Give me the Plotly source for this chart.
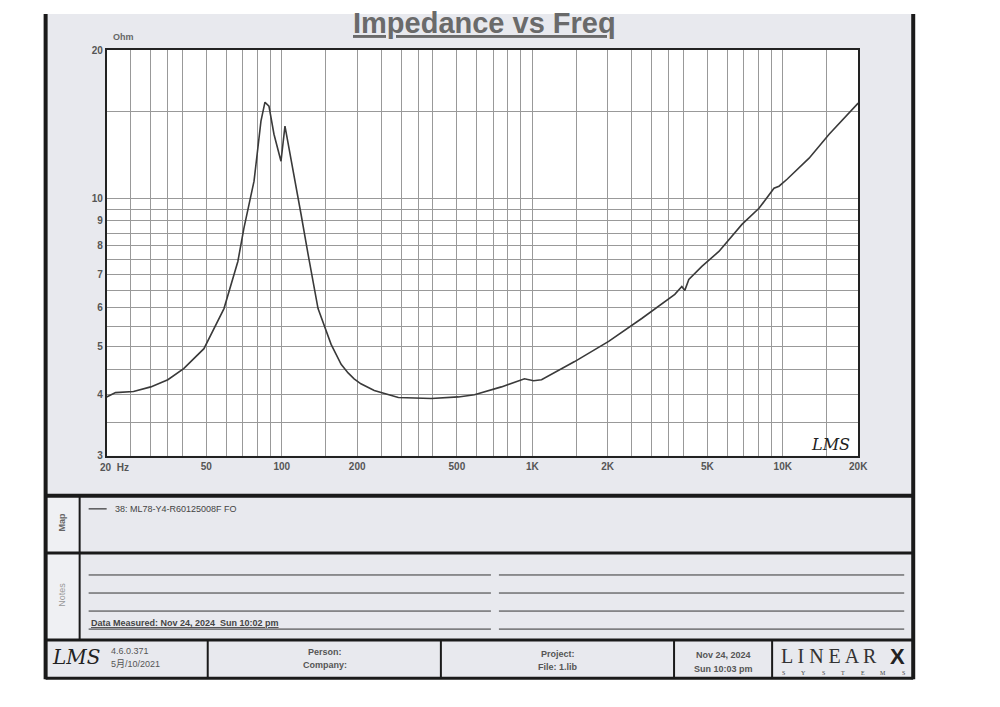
import numpy as np
import plotly.graph_objects as go

# impedance curve (Hz, Ohm)
freq = [20, 21.7, 25.6, 30, 35.1, 40.6, 48.9, 58.8, 66.8, 70.6, 77.5, 82.6, 85.7,
        88.9, 93.1, 99.3, 103, 108.9, 119.4, 127.4, 139.6, 157.4, 172.6, 184, 194.5,
        207, 234, 292, 395, 507, 588, 753, 931, 1012, 1089, 1476, 2018, 2735, 3707,
        3954, 4064, 4217, 4754, 5560, 6871, 8036, 9226, 9661, 10400, 12736, 15311, 20000]
impedance = [3.95, 4.03, 4.05, 4.14, 4.28, 4.51, 4.95, 5.97, 7.44, 8.69, 10.83, 14.34, 15.67,
             15.38, 13.49, 11.89, 14.01, 12.06, 9.28, 7.69, 5.97, 5.05, 4.60, 4.42, 4.30,
             4.20, 4.07, 3.94, 3.92, 3.95, 3.99, 4.14, 4.30, 4.26, 4.28, 4.66, 5.12, 5.70, 6.38,
             6.62, 6.50, 6.84, 7.27, 7.80, 8.85, 9.54, 10.48, 10.58, 10.93, 12.06, 13.49, 15.60]

# grid / tick labels
x_grid = [20, 25, 30, 35, 40, 50, 60, 70, 80, 90,
          100, 150, 200, 250, 300, 350, 400, 500, 600, 700, 800, 900,
          1000, 1500, 2000, 2500, 3000, 3500, 4000, 5000, 6000, 7000, 8000, 9000,
          10000, 15000, 20000]
x_labels = {50: "50", 100: "100", 200: "200", 500: "500", 1000: "1K",
            2000: "2K", 5000: "5K", 10000: "10K", 20000: "20K"}
y_grid = [3, 3.5, 4, 4.5, 5, 5.5, 6, 6.5, 7, 7.5, 8, 8.5, 9, 9.5, 10, 15, 20]
y_labels = {3: "3", 4: "4", 5: "5", 6: "6", 7: "7", 8: "8", 9: "9", 10: "10", 20: "20"}

# figure sits at (8, 8) in the page; the screenshot comes out slightly scaled,
# so positions (given in screenshot pixels) are corrected back to figure pixels
OFF = 8
W, H = 970, 680
SX, SY = 0.989, 0.982
AX, AY = -0.5, 5.2
def px(x):
    return ((x - AX) / SX - OFF) / W
def py(y):
    return 1 - ((y - AY) / SY - OFF) / H

FONT = "Liberation Sans, Arial, Noto Sans CJK SC, sans-serif"
GRAY = "#555"

fig = go.Figure()
fig.add_trace(go.Scatter(x=freq, y=impedance, mode="lines",
                         line=dict(color="#3a3a3a", width=1.6), showlegend=False))

shapes = []
# page frame background and white plot area
shapes.append(dict(type="rect", xref="paper", yref="paper", x0=px(45), x1=px(912),
                   y0=py(676), y1=1.0, fillcolor="#e8e9ee", line=dict(width=0), layer="below"))
shapes.append(dict(type="rect", xref="paper", yref="paper", x0=px(106), x1=px(857),
                   y0=py(454), y1=py(49), fillcolor="white", line=dict(width=0), layer="below"))
# left label column a bit lighter
shapes.append(dict(type="rect", xref="paper", yref="paper", x0=px(45), x1=px(79),
                   y0=py(638), y1=py(494), fillcolor="#eff0f3", line=dict(width=0), layer="below"))

def hline(y, x0, x1, w=3, c="#1a1a1a"):
    shapes.append(dict(type="line", xref="paper", yref="paper", x0=px(x0), x1=px(x1),
                       y0=py(y), y1=py(y), line=dict(color=c, width=w)))

def vline(x, y0, y1, w=3, c="#1a1a1a"):
    shapes.append(dict(type="line", xref="paper", yref="paper", x0=px(x), x1=px(x),
                       y0=min(1.0, py(y0)), y1=py(y1), line=dict(color=c, width=w)))

# frame
vline(45, 0, 677, 4)
vline(912, 0, 677, 4)
hline(494, 45, 912, 4)
hline(551, 45, 912, 3)
hline(638, 45, 912, 3)
hline(676, 45, 912, 3)
vline(79, 494, 638, 2)
# bottom bar cells
for xc in [207, 440, 673, 771]:
    vline(xc, 638, 676, 2)
# note lines
for yl in [573, 591, 609, 627]:
    hline(yl, 88, 490, 1, "#333")
    hline(yl, 498, 903, 1, "#333")
# legend sample line
hline(507, 88, 106, 1.2, "#333")

ann = []
def text(x, y, s, size=9, color=GRAY, anchor="left", bold=True, angle=0, family=FONT):
    if bold:
        s = "<b>" + s + "</b>"
    ann.append(dict(x=px(x), y=py(y), xref="paper", yref="paper", text=s, showarrow=False,
                    xanchor=anchor, yanchor="middle", textangle=angle,
                    font=dict(family=family, size=size, color=color)))

text(484, 22, "<u>Impedance vs Freq</u>", 29, "#6a6a6a", "center")
text(110, 36, "Ohm", 9, "#666")
text(97, 466, "20  Hz", 10, GRAY)
text(829, 443, "<i>LMS</i>", 16, "#222", "center", False, family="DejaVu Serif, serif")
text(61, 520, "Map", 9, "#666", "center", angle=-90)
text(61, 593, "Notes", 9, "#999", "center", False, angle=-90)
text(112, 507, "38: ML78-Y4-R60125008F FO", 9, "#444", bold=False)
text(88, 621, "<u>Data Measured: Nov 24, 2024  Sun 10:02 pm</u>", 9, "#444")
text(75, 655, "<i>LMS</i>", 20, "#222", "center", False, family="DejaVu Serif, serif")
text(108, 649, "4.6.0.371", 9, GRAY, bold=False)
text(108, 662, "5月/10/2021", 9, GRAY, bold=False)
text(324, 650, "Person:", 9, GRAY, "center")
text(324, 663, "Company:", 9, GRAY, "center")
text(557, 652, "Project:", 9, GRAY, "center")
text(557, 665, "File: 1.lib", 9, GRAY, "center")
text(722, 653, "Nov 24, 2024", 9, GRAY, "center")
text(722, 667, "Sun 10:03 pm", 9, GRAY, "center")
text(828, 654, "L I N E A R", 20, "#333", "center", False, family="Liberation Serif, serif")
text(896, 654, "X", 22, "#222", "center", family="Liberation Sans, sans-serif")
for i, ch in enumerate("SYSTEMS"):
    text(782 + i * 20, 671, ch, 6, "#444", "center", False, family="Liberation Serif, serif")

fig.update_layout(
    width=W, height=H,
    margin=dict(l=0, r=0, t=0, b=0),
    paper_bgcolor="white",
    plot_bgcolor="white",
    shapes=shapes,
    annotations=ann,
    font=dict(family=FONT, size=10, color=GRAY),
    xaxis=dict(type="log", range=[np.log10(20), np.log10(20000)], domain=[px(106), px(857)],
               tickvals=x_grid, ticktext=["<b>%s</b>" % x_labels[v] if v in x_labels else "" for v in x_grid],
               tickangle=0, ticks="", showgrid=True, gridcolor="#999999", gridwidth=1,
               showline=True, mirror=True, linecolor="#222", linewidth=1.5, zeroline=False,
               tickfont=dict(size=10, color=GRAY)),
    yaxis=dict(type="log", range=[np.log10(3), np.log10(20)], domain=[py(454), py(49)],
               tickvals=y_grid, ticktext=["<b>%s</b>" % y_labels[v] if v in y_labels else "" for v in y_grid],
               ticks="", showgrid=True, gridcolor="#999999", gridwidth=1,
               showline=True, mirror=True, linecolor="#222", linewidth=1.5, zeroline=False,
               tickfont=dict(size=10, color=GRAY)),
)

fig.write_html("out.html")
